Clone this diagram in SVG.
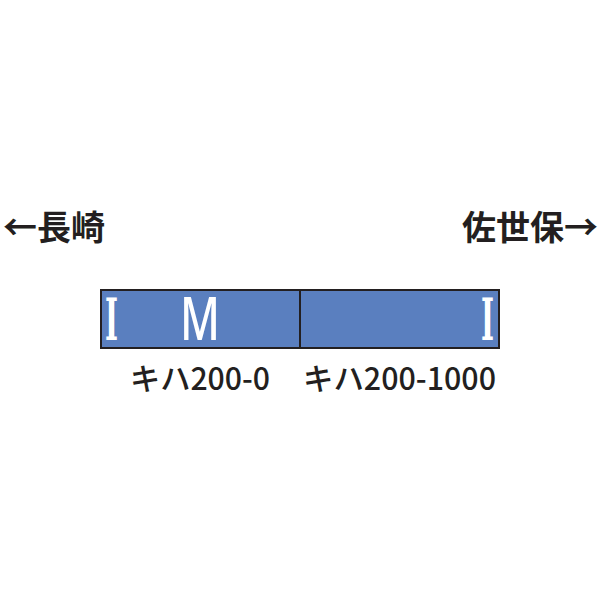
<svg xmlns="http://www.w3.org/2000/svg" width="600" height="600" viewBox="0 0 600 600">
<style>
.t{font-family:"Noto Sans CJK JP","Noto Sans",sans-serif;fill:#231f20}
.h{font-size:34px;font-weight:700}
.lb{font-size:31px;font-weight:500}
.car{fill:#5a7fbf;stroke:#231f20;stroke-width:2}
.mk{font-family:"Noto Sans","Liberation Sans",sans-serif;fill:#fff;font-size:59px;font-weight:500}
.mi{font-family:"DejaVu Serif",serif;fill:#fff;font-size:58px;font-weight:700}
</style>
<rect width="600" height="600" fill="#fff"/>
<text class="t h" x="3" y="240">←長崎</text>
<text class="t h" x="598" y="240" text-anchor="end">佐世保→</text>
<g id="car1">
<rect class="car" x="101" y="290" width="199" height="58"/>
<text class="mi" x="105" y="340" textLength="13" lengthAdjust="spacingAndGlyphs">I</text>
<text class="mk" x="180" y="340" textLength="40" lengthAdjust="spacingAndGlyphs">M</text>
<text class="t lb" x="130" y="390" textLength="140" lengthAdjust="spacingAndGlyphs">キハ200-0</text>
</g>
<g id="car2">
<rect class="car" x="300" y="290" width="199" height="58"/>
<text class="mi" x="481" y="340" textLength="13" lengthAdjust="spacingAndGlyphs">I</text>
<text class="t lb" x="303" y="390" textLength="193" lengthAdjust="spacingAndGlyphs">キハ200-1000</text>
</g>
</svg>
